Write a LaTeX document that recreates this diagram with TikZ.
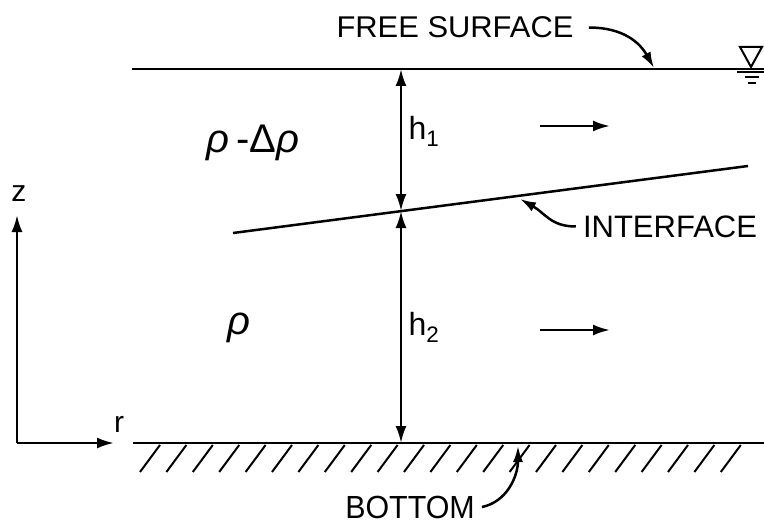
\documentclass[tikz,border=0pt]{standalone}
\usepackage{fontspec}
\setmainfont{Liberation Sans}
\usetikzlibrary{arrows.meta}

\tikzset{
    tip/.style={-{Latex[length=17pt,width=11pt]}},
    dimline/.style={{Latex[length=17pt,width=11pt]}-{Latex[length=17pt,width=11pt]}},
    leader/.style={-{Latex[length=16pt,width=10pt]}},
    lettering/.style={inner sep=0pt, font=\fontsize{31}{36}\selectfont},
}

\begin{document}
\begin{tikzpicture}[x=1pt,y=-1pt,line width=2.5pt]
    \useasboundingbox (0,0) rectangle (764,527);

    % free surface, interface and bottom
    \coordinate (fsL) at (132,69);
    \coordinate (fsR) at (764,69);
    \coordinate (ifL) at (233,233);
    \coordinate (ifR) at (748,166);
    \coordinate (btL) at (133,443);
    \coordinate (btR) at (764,443);
    \draw (fsL) -- (fsR);
    \draw (ifL) -- (ifR);
    \draw (btL) -- (btR);
    \foreach \i in {0,...,22}
        \draw[line width=2pt] ({160+26.4*\i},445) -- ++(-20,27);

    % water level mark
    \draw[line width=2pt] (740,47) -- (762,47) -- (751,67) -- cycle;
    \draw[line width=2pt] (737,72) -- (764,72);
    \draw[line width=2pt] (745,77.5) -- (759,77.5);
    \draw[line width=2pt] (748,83) -- (756,83);

    % layer depths
    \coordinate (top) at (401,69);
    \coordinate (mid) at (401,211);
    \coordinate (bot) at (401,443);
    \draw[dimline] (top) -- (mid);
    \draw[dimline] (mid) -- (bot);
    \node[lettering, font=\fontsize{32}{38}\selectfont] (hone) at (424,131) {h\textsubscript{1}};
    \node[lettering, font=\fontsize{32}{38}\selectfont] (htwo) at (424,327) {h\textsubscript{2}};

    % densities
    \node[lettering, font=\fontsize{40}{46}\selectfont] (rhotop) at (253,143) {\textit{ρ}\,-Δ\textit{ρ}};
    \node[lettering, font=\fontsize{40}{46}\selectfont] (rhobot) at (239,328) {\textit{ρ}};

    % flow direction
    \coordinate (flowAa) at (540,126);
    \coordinate (flowAb) at (610,126);
    \coordinate (flowBa) at (540,330);
    \coordinate (flowBb) at (610,330);
    \draw[tip] (flowAa) -- (flowAb);
    \draw[tip] (flowBa) -- (flowBb);

    % axes
    \coordinate (orig) at (17,443);
    \node[lettering, font=\fontsize{30}{36}\selectfont] (zlab) at (19,194) {z};
    \node[lettering, font=\fontsize{30}{36}\selectfont] (rlab) at (119,424) {r};
    \coordinate (zend) at (17,215);
    \coordinate (rend) at (114,443);
    \draw[tip] (orig) -- (zend);
    \draw[tip] (orig) -- (rend);

    % labels with leaders
    \node[lettering, font=\fontsize{30}{36}\selectfont, xscale=1.03] (fslab) at (455,27.5) {FREE SURFACE};
    \coordinate (fsTip) at (654,68);
    \draw[leader] ([xshift=14pt]fslab.east) .. controls +(35,0) and +(-14,-25) .. (fsTip);

    \node[lettering] (iflab) at (670,226.5) {INTERFACE};
    \coordinate (ifTip) at (520,199);
    \draw[leader] ([xshift=-6pt]iflab.west) .. controls +(-25,0) and +(25,14) .. (ifTip);

    \node[lettering, font=\fontsize{32}{38}\selectfont, xscale=0.95] (btlab) at (410,507) {BOTTOM};
    \coordinate (btTip) at (518,446);
    \draw[leader] ([xshift=6pt]btlab.east) .. controls +(25,-5) and +(0,30) .. (btTip);
\end{tikzpicture}
\end{document}
